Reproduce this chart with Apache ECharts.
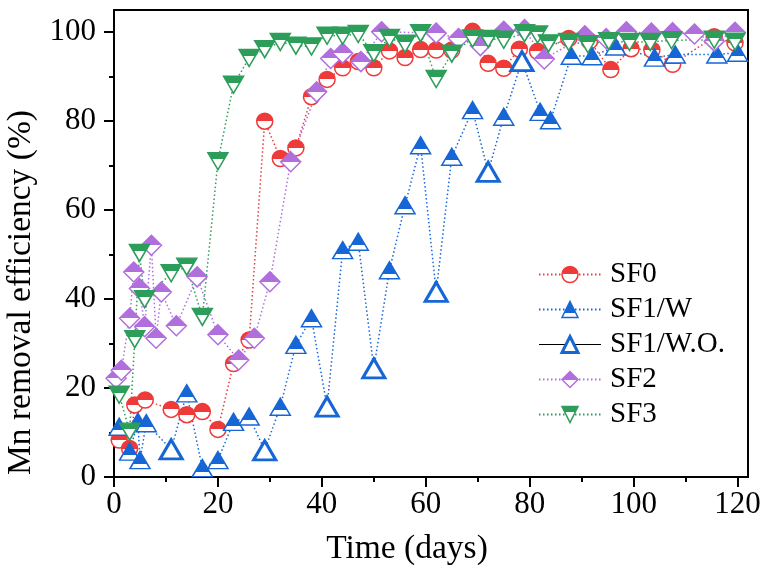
<!DOCTYPE html>
<html>
<head>
<meta charset="utf-8">
<script src="https://cdn.jsdelivr.net/npm/echarts@6/dist/echarts.min.js"></script>
<style>html,body{margin:0;padding:0;background:#fff;}#c{width:766px;height:569px;}</style>
</head>
<body>
<div id="c"></div>
<script>
const xMajor = [0, 20, 40, 60, 80, 100, 120];
const xMinor = [10, 30, 50, 70, 90, 110];
const yMajor = [0, 20, 40, 60, 80, 100];
const yMinor = [10, 30, 50, 70, 90];

const sf0Days = [1,3,4,6,11,14,17,20,23,26,29,32,35,38,41,44,47,50,53,56,59,62,65,69,72,75,78,81.5,87.5,91.5,95.6,99.5,103.5,107.5,115.5,119.5];
const sf0Vals = [8.3,6.4,16.2,17.3,15.2,14,14.7,10.7,25.5,30.8,80,71.6,74,85.5,89.4,92,93.4,92,95.8,94.3,96.1,96,96,100.2,93,91.9,96.2,95.7,98.6,98,91.6,96.3,96,92.8,99,97.6];

const sf1Days = [1,3,4.6,5,6.2,11,14,17,20,23,26,29,32,35,38,41,44,47,50,53,56,59,62,65,69,72,75,78.5,82,84,88,92,96.5,104,108,116,120];
const sf1Vals = [11.3,5.7,12.4,3.8,12.1,6.2,18.8,2,3.8,12.4,13.6,6,15.8,29.7,35.7,15.8,51,52.9,24.4,46.5,61.1,74.6,41.6,72,82.5,68.6,81,93.5,82.1,80.2,94.7,94.6,96.8,94.3,95,95,95.4];
const sf1Mode = ['W','W','W','W','W','WO','W','W','W','W','W','WO','W','W','W','WO','W','W','WO','W','W','W','WO','W','W','WO','W','WO','W','W','W','W','W','W','W','W','W'];

const sf2Days = [0.4,1.4,3,3.8,4.9,5.9,7.2,8.1,9.1,12,16,20,24,27,30,34,39,41.7,44,47.5,51.5,62,66.3,70.5,75,79,82.8,90.6,94.7,98.6,103.4,107.5,111.7,115.5,119.5];
const sf2Vals = [22.2,24,35.7,46.1,42.4,33.8,52.1,31.2,41.6,34,45,32,26.3,31.2,43.9,70.9,86.6,94.1,95.3,93.4,100.1,99.8,98.6,97,100.2,100.6,94,99.2,98.6,100.1,99.8,99.9,99.6,98,100];

const sf3Days = [1,3,4,4.9,5.9,11,14,17,20,23,26,29,32,35,38,41,44,47,50,53,56,59,62,65,69,72,75,79,81.5,83.6,87.5,91.2,95.2,99.2,103.2,107.3,115.5,119.5];
const sf3Vals = [18.5,10.2,31,50.4,40,45.8,47.3,36,71,88.2,94.2,96.2,97.8,97,96.8,99.2,99.2,99.6,95.3,98.7,97.4,99.8,89.5,95.2,98.6,98.5,98.3,99.8,99.5,97.5,97.8,97.3,98,97.8,97.8,98.2,98.3,97.9];

const RED = '#EF3A3A', BLUE = '#1666D6', PURPLE = '#B06FDD', GREEN = '#2C9E5A';
const FONT = "'Liberation Serif', 'Times New Roman', serif";

function halfFill(color, stop) {
  return {type: 'linear', x: 0, y: 0, x2: 0, y2: 1, colorStops: [
    {offset: 0, color: color}, {offset: stop, color: color},
    {offset: stop, color: '#ffffff'}, {offset: 1, color: '#ffffff'}]};
}
const zip = (a, b) => a.map((d, i) => [d, b[i]]);
const dotted = c => ({color: c, width: 1.5, type: [1.5, 2.5]});

const sf1LineData = sf1Days.map((d, i) => sf1Mode[i] === 'WO' ? {value: [d, sf1Vals[i]], symbol: 'none'} : [d, sf1Vals[i]]);
const sf1WOData = sf1Days.map((d, i) => [d, sf1Vals[i]]).filter((p, i) => sf1Mode[i] === 'WO');

const chart = echarts.init(document.getElementById('c'), null, {renderer: 'canvas'});
const axisCommon = {type: 'value', splitLine: {show: false}};
chart.setOption({
  animation: false,
  backgroundColor: '#fff',
  grid: {left: 114, right: 18, top: 10, bottom: 92, show: true, borderColor: '#000', borderWidth: 2,
         containLabel: false, outerBoundsMode: 'none'},
  legend: {
    orient: 'vertical', left: 533, top: 255, itemWidth: 62, itemHeight: 20, itemGap: 6,
    selectedMode: false,
    textStyle: {fontFamily: FONT, fontSize: 29, color: '#000', padding: [0, 0, 0, 4]},
    data: [
      {name: 'SF0', itemStyle: {borderWidth: 1.5}},
      {name: 'SF1/W', itemStyle: {borderWidth: 1.5}},
      {name: 'SF1/W.O.', itemStyle: {borderWidth: 3}, lineStyle: {color: '#000', width: 1.2, type: 'solid', opacity: 1}},
      {name: 'SF2', itemStyle: {borderWidth: 1.5}},
      {name: 'SF3', itemStyle: {borderWidth: 1.5}}
    ]
  },
  xAxis: [
    Object.assign({}, axisCommon, {
      min: 0, max: 122,
      name: 'Time (days)', nameLocation: 'middle', nameGap: 55,
      nameTextStyle: {fontFamily: FONT, fontSize: 33.5, color: '#000', padding: [0, 48, 0, 0]},
      axisLine: {show: true, lineStyle: {color: '#000', width: 2}},
      axisTick: {show: true, customValues: xMajor, length: 10, lineStyle: {color: '#000', width: 2}},
      axisLabel: {customValues: xMajor, fontFamily: FONT, fontSize: 31, color: '#000', margin: 12}
    }),
    Object.assign({}, axisCommon, {
      min: 0, max: 122, position: 'bottom',
      axisLine: {show: false},
      axisTick: {show: true, customValues: xMinor, length: 5, lineStyle: {color: '#000', width: 2}},
      axisLabel: {show: false}
    })
  ],
  yAxis: [
    Object.assign({}, axisCommon, {
      min: 0, max: 105,
      name: 'Mn removal efficiency (%)', nameLocation: 'middle', nameGap: 61,
      nameTextStyle: {fontFamily: FONT, fontSize: 33.5, color: '#000', padding: [0, 98, 0, 0]},
      axisLine: {show: true, lineStyle: {color: '#000', width: 2}},
      axisTick: {show: true, customValues: yMajor, length: 10, lineStyle: {color: '#000', width: 2}},
      axisLabel: {customValues: yMajor, fontFamily: FONT, fontSize: 31, color: '#000', margin: 18}
    }),
    Object.assign({}, axisCommon, {
      min: 0, max: 105, position: 'left',
      axisLine: {show: false},
      axisTick: {show: true, customValues: yMinor, length: 5, lineStyle: {color: '#000', width: 2}},
      axisLabel: {show: false}
    })
  ],
  series: [
    {
      name: 'SF0', type: 'line', data: zip(sf0Days, sf0Vals),
      symbol: 'circle', symbolSize: 16,
      itemStyle: {color: halfFill(RED, 0.5), borderColor: RED, borderWidth: 1.5},
      lineStyle: dotted(RED)
    },
    {
      name: 'SF1/W', type: 'line', data: sf1LineData,
      symbol: 'triangle', symbolSize: [20, 17],
      itemStyle: {color: halfFill(BLUE, 0.7), borderColor: BLUE, borderWidth: 1.5},
      lineStyle: dotted(BLUE)
    },
    {
      name: 'SF1/W.O.', type: 'line', data: sf1WOData,
      symbol: 'triangle', symbolSize: [22, 19],
      itemStyle: {color: '#ffffff', borderColor: BLUE, borderWidth: 3},
      lineStyle: {color: BLUE, width: 1, opacity: 0}
    },
    {
      name: 'SF2', type: 'line', data: zip(sf2Days, sf2Vals),
      symbol: 'diamond', symbolSize: [20, 20],
      itemStyle: {color: halfFill(PURPLE, 0.5), borderColor: PURPLE, borderWidth: 1.5},
      lineStyle: dotted(PURPLE)
    },
    {
      name: 'SF3', type: 'line', data: zip(sf3Days, sf3Vals),
      symbol: 'path://M0,0L20,0L10,17Z', symbolSize: [20, 17],
      itemStyle: {color: halfFill(GREEN, 0.38), borderColor: GREEN, borderWidth: 1.5},
      lineStyle: dotted(GREEN)
    }
  ]
});
</script>
</body>
</html>
